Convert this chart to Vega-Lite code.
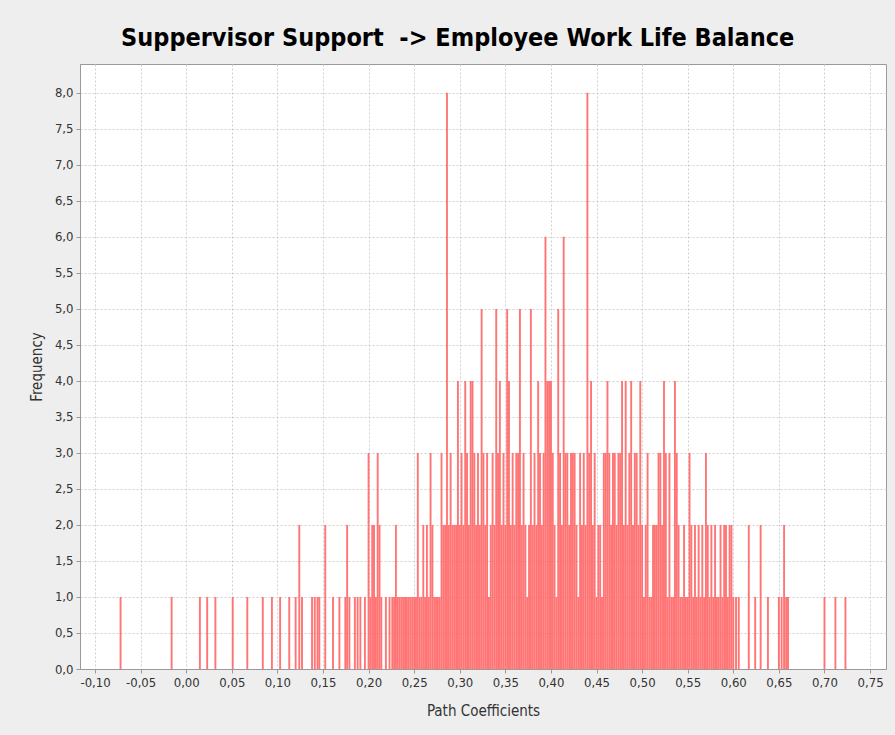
{
  "$schema": "https://vega.github.io/schema/vega-lite/v6.json",
  "width": 806,
  "height": 605,
  "autosize": "none",
  "padding": {"left": 80, "top": 64, "right": 9, "bottom": 66},
  "background": "#eeeeee",
  "title": {
    "text": "Suppervisor Support \u00a0-> Employee Work Life Balance",
    "font": "Liberation Sans Narrow, DejaVu Sans Condensed, sans-serif",
    "fontSize": 25,
    "fontWeight": "bold",
    "color": "#000000",
    "anchor": "middle",
    "frame": "bounds",
    "offset": 13
  },
  "data": {
    "values": [
      {"x": -0.072, "n": 1}, {"x": -0.016, "n": 1}, {"x": 0.015, "n": 1}, {"x": 0.023, "n": 1}, {"x": 0.032, "n": 1},
      {"x": 0.051, "n": 1}, {"x": 0.067, "n": 1}, {"x": 0.084, "n": 1}, {"x": 0.094, "n": 1}, {"x": 0.103, "n": 1},
      {"x": 0.113, "n": 1}, {"x": 0.120, "n": 1}, {"x": 0.124, "n": 2}, {"x": 0.127, "n": 1}, {"x": 0.138, "n": 1},
      {"x": 0.141, "n": 1}, {"x": 0.144, "n": 1}, {"x": 0.146, "n": 1}, {"x": 0.1525, "n": 2}, {"x": 0.161, "n": 1},
      {"x": 0.168, "n": 1}, {"x": 0.1745, "n": 1}, {"x": 0.1765, "n": 2}, {"x": 0.179, "n": 1}, {"x": 0.185, "n": 1},
      {"x": 0.188, "n": 1}, {"x": 0.191, "n": 1}, {"x": 0.196, "n": 1},
      {"x": 0.200, "n": 3}, {"x": 0.202, "n": 1}, {"x": 0.204, "n": 2}, {"x": 0.206, "n": 2}, {"x": 0.208, "n": 1},
      {"x": 0.210, "n": 3}, {"x": 0.212, "n": 2}, {"x": 0.214, "n": 1}, {"x": 0.219, "n": 1}, {"x": 0.223, "n": 1},
      {"x": 0.226, "n": 1}, {"x": 0.228, "n": 1}, {"x": 0.230, "n": 2}, {"x": 0.232, "n": 1}, {"x": 0.234, "n": 1},
      {"x": 0.236, "n": 1}, {"x": 0.238, "n": 1}, {"x": 0.240, "n": 1}, {"x": 0.242, "n": 1}, {"x": 0.244, "n": 1},
      {"x": 0.246, "n": 1}, {"x": 0.248, "n": 1}, {"x": 0.250, "n": 1}, {"x": 0.252, "n": 1}, {"x": 0.254, "n": 3},
      {"x": 0.256, "n": 1}, {"x": 0.258, "n": 1}, {"x": 0.260, "n": 2}, {"x": 0.262, "n": 1}, {"x": 0.264, "n": 2},
      {"x": 0.266, "n": 1}, {"x": 0.268, "n": 3}, {"x": 0.270, "n": 2}, {"x": 0.272, "n": 1}, {"x": 0.274, "n": 1},
      {"x": 0.276, "n": 1}, {"x": 0.278, "n": 1}, {"x": 0.280, "n": 3}, {"x": 0.282, "n": 2}, {"x": 0.284, "n": 2},
      {"x": 0.286, "n": 8}, {"x": 0.288, "n": 2}, {"x": 0.290, "n": 3}, {"x": 0.292, "n": 2}, {"x": 0.294, "n": 2},
      {"x": 0.296, "n": 2}, {"x": 0.298, "n": 4}, {"x": 0.300, "n": 2}, {"x": 0.302, "n": 3}, {"x": 0.304, "n": 2},
      {"x": 0.306, "n": 4}, {"x": 0.308, "n": 3}, {"x": 0.310, "n": 2}, {"x": 0.312, "n": 4}, {"x": 0.314, "n": 4},
      {"x": 0.316, "n": 3}, {"x": 0.318, "n": 2}, {"x": 0.320, "n": 3}, {"x": 0.322, "n": 2}, {"x": 0.324, "n": 5},
      {"x": 0.326, "n": 3}, {"x": 0.328, "n": 2}, {"x": 0.330, "n": 3}, {"x": 0.332, "n": 1}, {"x": 0.334, "n": 2},
      {"x": 0.336, "n": 3}, {"x": 0.338, "n": 2}, {"x": 0.340, "n": 5}, {"x": 0.342, "n": 3}, {"x": 0.344, "n": 4},
      {"x": 0.346, "n": 2}, {"x": 0.348, "n": 3}, {"x": 0.350, "n": 2}, {"x": 0.352, "n": 5}, {"x": 0.354, "n": 4},
      {"x": 0.356, "n": 2}, {"x": 0.358, "n": 3}, {"x": 0.360, "n": 2}, {"x": 0.362, "n": 3}, {"x": 0.364, "n": 3},
      {"x": 0.366, "n": 5}, {"x": 0.368, "n": 2}, {"x": 0.370, "n": 3}, {"x": 0.372, "n": 2}, {"x": 0.374, "n": 1},
      {"x": 0.376, "n": 2}, {"x": 0.378, "n": 5}, {"x": 0.380, "n": 2}, {"x": 0.382, "n": 3}, {"x": 0.384, "n": 2},
      {"x": 0.386, "n": 4}, {"x": 0.388, "n": 3}, {"x": 0.390, "n": 2}, {"x": 0.392, "n": 3}, {"x": 0.394, "n": 6},
      {"x": 0.396, "n": 4}, {"x": 0.398, "n": 4}, {"x": 0.400, "n": 4}, {"x": 0.402, "n": 3}, {"x": 0.404, "n": 2},
      {"x": 0.406, "n": 1}, {"x": 0.408, "n": 5}, {"x": 0.410, "n": 3}, {"x": 0.412, "n": 2}, {"x": 0.414, "n": 6},
      {"x": 0.416, "n": 3}, {"x": 0.418, "n": 3}, {"x": 0.420, "n": 2}, {"x": 0.422, "n": 3}, {"x": 0.424, "n": 3},
      {"x": 0.426, "n": 3}, {"x": 0.428, "n": 2}, {"x": 0.430, "n": 1}, {"x": 0.432, "n": 3}, {"x": 0.434, "n": 2},
      {"x": 0.436, "n": 3}, {"x": 0.438, "n": 2}, {"x": 0.440, "n": 8}, {"x": 0.442, "n": 3}, {"x": 0.444, "n": 4},
      {"x": 0.446, "n": 2}, {"x": 0.448, "n": 3}, {"x": 0.450, "n": 1}, {"x": 0.452, "n": 2}, {"x": 0.454, "n": 2},
      {"x": 0.456, "n": 1}, {"x": 0.458, "n": 3}, {"x": 0.460, "n": 3}, {"x": 0.462, "n": 4}, {"x": 0.464, "n": 3},
      {"x": 0.466, "n": 2}, {"x": 0.468, "n": 3}, {"x": 0.470, "n": 3}, {"x": 0.472, "n": 2}, {"x": 0.474, "n": 3},
      {"x": 0.476, "n": 3}, {"x": 0.478, "n": 4}, {"x": 0.480, "n": 2}, {"x": 0.482, "n": 4}, {"x": 0.484, "n": 2},
      {"x": 0.486, "n": 3}, {"x": 0.488, "n": 4}, {"x": 0.490, "n": 2}, {"x": 0.492, "n": 3}, {"x": 0.494, "n": 3},
      {"x": 0.496, "n": 2}, {"x": 0.498, "n": 4}, {"x": 0.500, "n": 2}, {"x": 0.502, "n": 1}, {"x": 0.504, "n": 2},
      {"x": 0.506, "n": 3}, {"x": 0.508, "n": 1}, {"x": 0.510, "n": 1}, {"x": 0.512, "n": 2}, {"x": 0.514, "n": 2},
      {"x": 0.516, "n": 2}, {"x": 0.518, "n": 3}, {"x": 0.520, "n": 3}, {"x": 0.522, "n": 2}, {"x": 0.524, "n": 4},
      {"x": 0.526, "n": 3}, {"x": 0.528, "n": 1}, {"x": 0.530, "n": 3}, {"x": 0.532, "n": 1}, {"x": 0.534, "n": 1},
      {"x": 0.536, "n": 4}, {"x": 0.538, "n": 3}, {"x": 0.540, "n": 2}, {"x": 0.542, "n": 1}, {"x": 0.544, "n": 1},
      {"x": 0.546, "n": 2}, {"x": 0.548, "n": 1}, {"x": 0.550, "n": 1}, {"x": 0.552, "n": 3}, {"x": 0.554, "n": 2},
      {"x": 0.556, "n": 1}, {"x": 0.558, "n": 2}, {"x": 0.560, "n": 1}, {"x": 0.562, "n": 2}, {"x": 0.564, "n": 1},
      {"x": 0.566, "n": 2}, {"x": 0.568, "n": 1}, {"x": 0.570, "n": 3}, {"x": 0.572, "n": 2}, {"x": 0.574, "n": 1},
      {"x": 0.576, "n": 2}, {"x": 0.578, "n": 1}, {"x": 0.580, "n": 2}, {"x": 0.582, "n": 1}, {"x": 0.584, "n": 1},
      {"x": 0.586, "n": 2}, {"x": 0.588, "n": 1}, {"x": 0.590, "n": 2}, {"x": 0.592, "n": 2}, {"x": 0.594, "n": 1},
      {"x": 0.596, "n": 2}, {"x": 0.598, "n": 2}, {"x": 0.600, "n": 1}, {"x": 0.603, "n": 1}, {"x": 0.606, "n": 1},
      {"x": 0.617, "n": 2}, {"x": 0.624, "n": 1}, {"x": 0.630, "n": 2}, {"x": 0.638, "n": 1}, {"x": 0.650, "n": 1},
      {"x": 0.653, "n": 1}, {"x": 0.6557, "n": 2}, {"x": 0.658, "n": 1}, {"x": 0.660, "n": 1},
      {"x": 0.700, "n": 1}, {"x": 0.712, "n": 1}, {"x": 0.723, "n": 1}
    ]
  },
  "mark": {"type": "bar", "orient": "vertical", "width": 1.9, "color": "#ff6666", "opacity": 0.9},
  "encoding": {
    "x": {
      "field": "x",
      "type": "quantitative",
      "scale": {"domain": [-0.111, 0.762], "nice": false, "zero": false},
      "axis": {
        "title": "Path Coefficients",
        "values": [-0.1, -0.05, 0, 0.05, 0.1, 0.15, 0.2, 0.25, 0.3, 0.35, 0.4, 0.45, 0.5, 0.55, 0.6, 0.65, 0.7, 0.75],
        "labelExpr": "replace(replace(format(datum.value, '.2f'), '.', ','), '\u2212', '-')",
        "titlePadding": 14
      }
    },
    "y": {
      "field": "n",
      "type": "quantitative",
      "scale": {"domain": [0, 8.4], "nice": false},
      "axis": {
        "title": "Frequency",
        "values": [0, 0.5, 1, 1.5, 2, 2.5, 3, 3.5, 4, 4.5, 5, 5.5, 6, 6.5, 7, 7.5, 8],
        "labelExpr": "replace(format(datum.value, '.1f'), '.', ',')",
        "titlePadding": 10
      }
    }
  },
  "config": {
    "view": {"fill": "#ffffff", "stroke": "#9a9a9a", "strokeWidth": 1},
    "axis": {
      "labelFont": "Liberation Sans Narrow, DejaVu Sans Condensed, sans-serif",
      "titleFont": "Liberation Sans Narrow, DejaVu Sans Condensed, sans-serif",
      "labelFontSize": 13,
      "titleFontSize": 15,
      "titleFontWeight": "normal",
      "labelColor": "#333333",
      "titleColor": "#333333",
      "domainColor": "#9a9a9a",
      "tickColor": "#9a9a9a",
      "tickSize": 4,
      "labelPadding": 3,
      "gridColor": "#d0d0d0",
      "gridDash": [2, 2],
      "gridWidth": 1
    }
  }
}
